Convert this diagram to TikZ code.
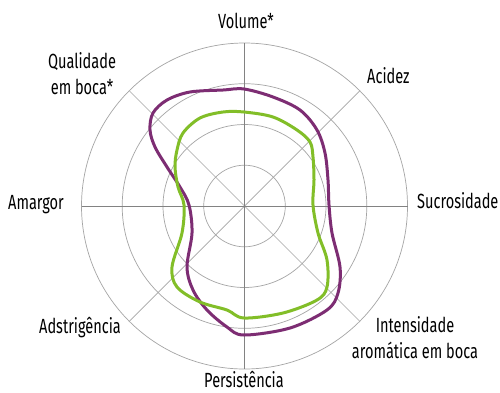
\documentclass[tikz,border=0pt]{standalone}
\usepackage{fontspec}
\setmainfont{Fira Sans}[FakeStretch=0.71]
\definecolor{wine}{RGB}{125,45,115}
\definecolor{lime}{RGB}{130,190,40}
\definecolor{gridc}{RGB}{165,165,165}
\definecolor{axisc}{RGB}{130,130,130}
\begin{document}
\begin{tikzpicture}[x=1pt,y=-1pt,
  ring/.style={draw=gridc,line width=0.7pt},
  spoke/.style={draw=gridc,line width=0.7pt},
  mainaxis/.style={draw=axisc,line width=0.9pt},
  lbl/.style={font=\fontsize{20.5}{26}\selectfont,inner sep=0pt,anchor=base},
  series/.style={line width=3pt,line join=round}]
\useasboundingbox (0,0) rectangle (500,392);
\fill[white] (0,0) rectangle (500,392);
\coordinate (c) at (244.5,206);
\foreach \r in {40.8,81.5,122.3,163}{\draw[ring] (c) circle[radius=\r];}
\foreach \a in {45,135,225,315}{\draw[spoke] (c) -- ++(\a:163);}
\draw[mainaxis] (c) ++(0,-163) -- ++(0,326);
\draw[mainaxis] (c) ++(-163,0) -- ++(326,0);
% series
\draw[series,wine] plot[smooth cycle,tension=0.55] coordinates {
(244,89) (273,97) (300,110) (317,130) (325,153) (328,180) (329,205) (332,233)
(340,267) (338,293) (327,310) (290,328) (244,335) (227,327) (207,310) (193,290)
(187,267) (192,233) (189,205) (180,187) (167,167) (155,147) (150,130) (153,113)
(167,100) (190,92) (223,90)};
\draw[series,lime] plot[smooth cycle,tension=0.55] coordinates {
(244,112) (273,117) (297,130) (310,142) (313,157) (314,180) (313,205) (318,233)
(327,260) (327,287) (317,300) (283,313) (244,318) (227,310) (200,302) (177,287)
(172,267) (182,233) (184,205) (178,187) (175,167) (177,150) (183,133) (200,118)
(223,112)};
% labels
\node[lbl] (vol) at (246,28) {Volume*};
\node[lbl] (q1) at (82,68) {Qualidade};
\node[lbl] (q2) at (82,94) {em boca*};
\node[lbl,anchor=base west] (aci) at (367,83) {Acidez};
\node[lbl,anchor=base west] (suc) at (417,208) {Sucrosidade};
\node[lbl,anchor=base west] (ama) at (8,209) {Amargor};
\node[lbl,anchor=base west] (ads) at (39,333) {Adstrigência};
\node[lbl] (i1) at (415,332) {Intensidade};
\node[lbl] (i2) at (415,358) {aromática em boca};
\node[lbl] (per) at (244,387) {Persistência};
\end{tikzpicture}
\end{document}
